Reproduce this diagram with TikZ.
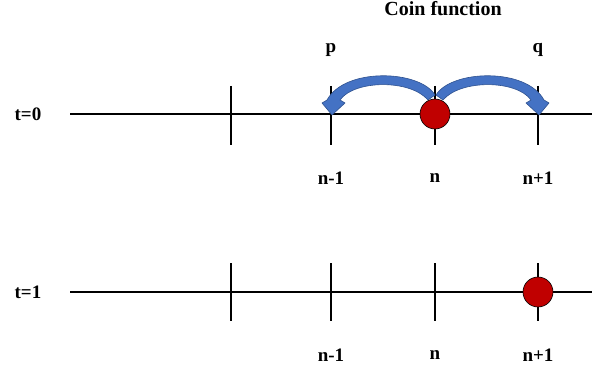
\documentclass[tikz,border=0pt]{standalone}
\usepackage{fontspec}
\setmainfont{Liberation Serif}
\begin{document}
\begin{tikzpicture}[x=1pt,y=-1pt,
  axis/.style={line width=2pt,black},
  tick/.style={line width=2pt,black},
  lab/.style={font=\fontsize{19}{22}\selectfont\bfseries,inner sep=0pt},
  coin/.style={circle,draw=black,line width=0.6pt,fill=coinred,minimum size=30pt,inner sep=0pt},
  blockarrow/.style={fill=arrowblue,draw=arrowedge,line width=0.6pt,line join=round}]
\definecolor{coinred}{RGB}{192,0,0}
\definecolor{arrowblue}{RGB}{68,114,196}
\definecolor{arrowedge}{RGB}{47,82,143}
\useasboundingbox (0,0) rectangle (592,369);
% t=0 row
\coordinate (a0s) at (70,114);
\coordinate (a0e) at (592,114);
\draw[axis] (a0s) -- (a0e);
\foreach \x/\n in {231/A,331/B,435/C,538/D}{
  \coordinate (t0\n) at (\x,114);
  \draw[tick] (\x,86) -- (\x,145);
}
\node[lab] (t0) at (28,114) {t=0};
\node[lab] (p) at (331,50) {p};
\node[lab] (q) at (538,50) {q};
\node[lab,font=\fontsize{20}{24}\selectfont\bfseries] (title) at (443,9) {Coin function};
\node[lab] (l0a) at (331,178) {n-1};
\node[lab] (l0b) at (435,178) {n};
\node[lab] (l0c) at (538,178) {n+1};
% arrows
\draw[blockarrow] (435,95) .. controls (420,70) and (345,67) .. (327,100)
  -- (322,103) -- (332,115) -- (345,103) -- (340,100)
  .. controls (354,80) and (410,79) .. (428,100) -- cycle;
\draw[blockarrow] (436,95) .. controls (451,70) and (526,67) .. (544,100)
  -- (549,103) -- (539,115) -- (526,103) -- (531,100)
  .. controls (517,80) and (461,79) .. (443,100) -- cycle;
\node[coin] (c0) at (t0C) {};
% t=1 row
\coordinate (a1s) at (70,292);
\coordinate (a1e) at (592,292);
\draw[axis] (a1s) -- (a1e);
\foreach \x/\n in {231/A,331/B,435/C,538/D}{
  \coordinate (t1\n) at (\x,292);
  \draw[tick] (\x,263) -- (\x,321);
}
\node[lab] (t1) at (28,292) {t=1};
\node[lab] (l1a) at (331,355) {n-1};
\node[lab] (l1b) at (435,355) {n};
\node[lab] (l1c) at (538,355) {n+1};
\node[coin] (c1) at (t1D) {};
\end{tikzpicture}
\end{document}
